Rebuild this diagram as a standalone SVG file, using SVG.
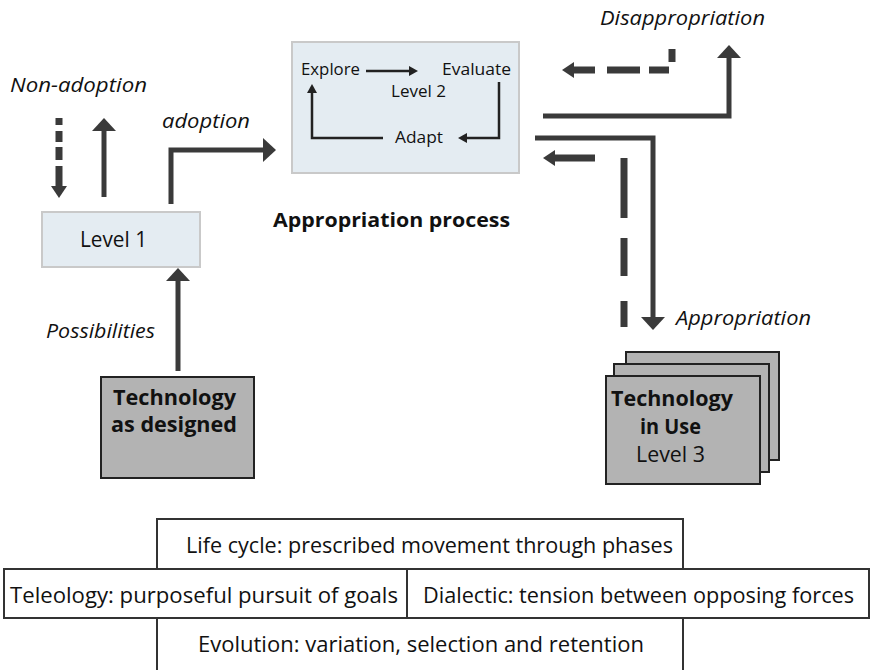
<svg xmlns="http://www.w3.org/2000/svg" width="870" height="670" viewBox="0 0 870 670">
<defs>
<style>
text{font-family:"Open Sans","Noto Sans","Liberation Sans",sans-serif;fill:#111}
.lbl{font-style:italic;font-size:20px}
.bold{font-weight:bold}
.blue{fill:#e4ecf2;stroke:#c9c9c9;stroke-width:2}
.gray{fill:#b3b3b3;stroke:#222;stroke-width:2}
.wbox{fill:#fff;stroke:#333;stroke-width:2}
.thick{fill:none;stroke:#3a3a3a;stroke-width:5}
.dash{fill:none;stroke:#3a3a3a;stroke-width:7}
.thin{fill:none;stroke:#222;stroke-width:2.5}
</style>
<marker id="big" markerUnits="userSpaceOnUse" markerWidth="14" markerHeight="24" refX="1" refY="12" orient="auto" viewBox="0 0 14 24"><path d="M0,0 L13,12 L0,24 z" fill="#3a3a3a"/></marker>
<marker id="mid" markerUnits="userSpaceOnUse" markerWidth="13" markerHeight="16" refX="1" refY="8" orient="auto" viewBox="0 0 13 16"><path d="M0,0 L12,8 L0,16 z" fill="#3a3a3a"/></marker>
<marker id="sm" markerUnits="userSpaceOnUse" markerWidth="10" markerHeight="10" refX="1" refY="5" orient="auto" viewBox="0 0 10 10"><path d="M0,0 L9,5 L0,10 z" fill="#222"/></marker>
</defs>
<rect width="870" height="670" fill="#fff"/>

<g id="level1">
<rect class="blue" x="42" y="212" width="158" height="55"/>
<text x="80" y="247" font-size="22" textLength="67" lengthAdjust="spacingAndGlyphs">Level 1</text>
</g>

<g id="appropriation">
<rect class="blue" x="292" y="42" width="227" height="131"/>
<text x="301" y="75" font-size="17" textLength="59" lengthAdjust="spacingAndGlyphs">Explore</text>
<text x="442" y="75" font-size="17" textLength="69" lengthAdjust="spacingAndGlyphs">Evaluate</text>
<text x="391" y="97" font-size="17" textLength="55" lengthAdjust="spacingAndGlyphs">Level 2</text>
<text x="395" y="143" font-size="17" textLength="48" lengthAdjust="spacingAndGlyphs">Adapt</text>
</g>

<g id="tech-designed">
<rect class="gray" x="101" y="377" width="153" height="101"/>
<text class="bold" x="113" y="405" font-size="21" textLength="123" lengthAdjust="spacingAndGlyphs">Technology</text>
<text class="bold" x="111" y="432" font-size="21" textLength="126" lengthAdjust="spacingAndGlyphs">as designed</text>
</g>

<g id="tech-in-use">
<rect class="gray" x="626" y="352" width="153" height="108"/>
<rect class="gray" x="614" y="364" width="155" height="108"/>
<rect class="gray" x="606" y="376" width="154" height="108"/>
<text class="bold" x="611" y="406" font-size="21" textLength="122" lengthAdjust="spacingAndGlyphs">Technology</text>
<text class="bold" x="640" y="434" font-size="21" textLength="61" lengthAdjust="spacingAndGlyphs">in Use</text>
<text x="636" y="462" font-size="21" textLength="69" lengthAdjust="spacingAndGlyphs">Level 3</text>
</g>

<g id="connectors">
<path class="thick" d="M104,197 V130" marker-end="url(#big)"/>
<path class="dash" d="M59,118 V187" stroke-dasharray="7 6 11 5 13 6 100" marker-end="url(#mid)"/>
<path class="thick" d="M171,204 V150 H264" marker-end="url(#big)"/>
<path class="thick" d="M178,371 V280" marker-end="url(#big)"/>
<path class="thick" d="M543,116 H729 V57" marker-end="url(#big)"/>
<path class="thick" d="M535,138 H653 V318" marker-end="url(#big)"/>
<path class="dash" d="M624,327 V158 H554" stroke-dasharray="26 25 38 20 60 29 100" marker-end="url(#mid)"/>
<path class="dash" d="M672,49 V70 H573" stroke-dasharray="13 11 20 9 33 12 100" marker-end="url(#mid)"/>
<path class="thin" d="M366,71 H410" marker-end="url(#sm)"/>
<path class="thin" d="M499,82 V138 H466" marker-end="url(#sm)"/>
<path class="thin" d="M383,138 H312 V92" marker-end="url(#sm)"/>
</g>

<g id="labels">
<text class="lbl" x="10" y="92" textLength="137" lengthAdjust="spacingAndGlyphs">Non-adoption</text>
<text class="lbl" x="162" y="128" textLength="88" lengthAdjust="spacingAndGlyphs">adoption</text>
<text class="lbl" x="46" y="338" textLength="109" lengthAdjust="spacingAndGlyphs">Possibilities</text>
<text class="lbl" x="600" y="25" textLength="165" lengthAdjust="spacingAndGlyphs">Disappropriation</text>
<text class="lbl" x="676" y="325" textLength="135" lengthAdjust="spacingAndGlyphs">Appropriation</text>
<text class="bold" x="273" y="227" font-size="20" textLength="237" lengthAdjust="spacingAndGlyphs">Appropriation process</text>
</g>

<g id="life-cycle">
<rect class="wbox" x="157" y="519" width="526" height="50"/>
<text x="186" y="553" font-size="22" textLength="487" lengthAdjust="spacingAndGlyphs">Life cycle: prescribed movement through phases</text>
</g>
<g id="teleology">
<rect class="wbox" x="4" y="569" width="403" height="49"/>
<text x="10" y="603" font-size="22" textLength="388" lengthAdjust="spacingAndGlyphs">Teleology: purposeful pursuit of goals</text>
</g>
<g id="dialectic">
<rect class="wbox" x="407" y="569" width="462" height="49"/>
<text x="423" y="603" font-size="22" textLength="431" lengthAdjust="spacingAndGlyphs">Dialectic: tension between opposing forces</text>
</g>
<g id="evolution">
<rect class="wbox" x="157" y="618" width="526" height="56"/>
<text x="198" y="652" font-size="22" textLength="446" lengthAdjust="spacingAndGlyphs">Evolution: variation, selection  and retention</text>
</g>
</svg>
